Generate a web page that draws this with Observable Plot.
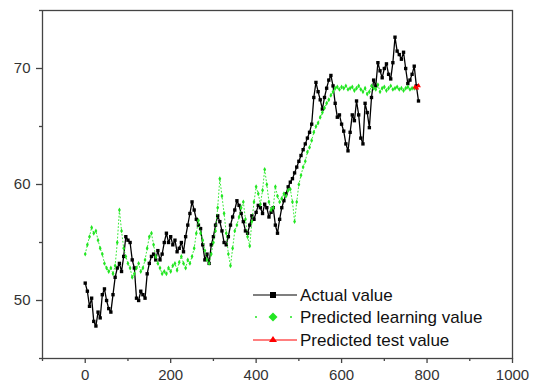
<!DOCTYPE html>
<html><head><meta charset="utf-8">
<script src="https://cdn.jsdelivr.net/npm/d3@7"></script>
<script src="https://cdn.jsdelivr.net/npm/@observablehq/plot@0.6"></script>
<style>
body{margin:0;background:#fff;}
#wrap{position:relative;width:540px;height:383px;}
#legend{position:absolute;left:0;top:0;}
</style></head>
<body><div id="wrap"></div>
<script>
const step = 5;
const actualValues = [51.5,50.8,49.5,50.2,48.2,47.8,49.0,48.5,50.5,51.0,50.0,49.3,49.0,50.5,52.0,52.8,53.2,52.5,53.8,55.5,
55.2,55.0,53.5,52.8,50.2,50.0,50.8,50.5,50.2,52.3,53.2,53.8,54.0,53.5,54.3,53.5,54.0,55.0,55.8,55.0,
55.5,54.8,55.2,54.2,54.5,55.0,54.2,55.5,56.5,57.5,58.5,57.8,57.0,56.5,56.2,54.8,53.5,54.0,53.2,54.8,
55.5,56.5,57.3,56.8,56.0,55.0,54.8,55.5,56.5,57.2,57.8,58.6,58.2,57.5,56.8,56.0,55.8,56.5,57.3,57.0,
57.6,58.2,58.0,57.5,58.3,58.0,57.2,57.6,58.0,56.5,55.8,57.0,58.0,58.6,59.2,59.8,60.2,60.5,61.0,61.5,
62.0,62.5,63.0,63.5,64.0,64.5,65.2,67.5,68.8,68.0,67.3,66.5,67.5,68.3,69.0,69.4,68.5,67.0,65.8,66.0,
65.2,64.6,63.5,62.9,64.5,66.0,65.5,67.2,66.0,64.0,63.5,67.0,66.2,64.9,67.5,69.0,68.5,70.5,69.8,69.2,
70.0,70.4,69.5,69.1,70.5,72.7,71.5,71.2,70.8,71.4,70.0,68.7,69.0,69.5,70.2,68.5,67.2];
const learningValues = [54.0,54.8,55.5,56.3,55.8,56.0,55.2,54.5,54.0,53.2,52.8,52.5,52.8,52.3,53.0,55.0,57.8,56.0,54.5,53.8,
53.2,52.8,52.0,52.3,52.8,53.2,52.5,52.8,53.5,54.5,55.5,55.8,54.8,53.8,53.2,52.8,52.3,52.5,52.3,52.8,
52.5,53.0,53.2,52.6,53.3,53.8,53.2,52.8,53.5,53.2,53.8,54.5,55.8,56.9,55.8,55.2,54.3,53.5,53.2,54.0,
55.0,56.0,58.0,60.5,59.0,57.5,55.8,54.0,53.0,54.5,56.0,56.5,57.2,58.0,58.5,57.0,55.5,54.7,56.8,58.5,
59.8,59.2,58.3,59.5,61.3,60.0,58.5,57.8,58.0,59.8,59.0,58.5,58.8,59.2,59.0,59.5,59.6,58.5,56.8,58.5,
60.0,60.8,61.5,62.0,62.8,63.2,63.8,64.5,65.0,65.3,65.8,66.2,66.6,67.0,67.3,67.7,68.0,68.3,68.4,68.2,
68.4,68.3,68.5,68.2,68.3,68.4,68.1,68.3,68.5,68.2,68.0,68.3,67.8,68.0,68.5,68.3,68.2,68.6,68.0,68.3,
68.4,68.1,68.3,68.5,68.2,68.3,68.4,68.2,68.3,68.1,68.3,68.4,68.2,68.3,68.3];
const testX = [772,776,780];
const testValues = [68.4,68.3,68.5];
const xMajor = [0,200,400,600,800,1000];
const xMinor = [-100,100,300,500,700,900];
const yMajor = [50,60,70];
const yMinor = [45,55,65,75];

const actual = actualValues.map((v,i)=>({x:i*step,y:v}));
const learning = learningValues.map((v,i)=>({x:i*step,y:v}));
const test = testX.map((x,i)=>({x,y:testValues[i]}));

const green = "#22e622";
const plot = Plot.plot({
  width:540, height:383,
  marginLeft:42, marginRight:28, marginTop:10, marginBottom:25,
  style:{fontFamily:"'Liberation Sans', Arial, sans-serif", fontSize:"15px", color:"#333", background:"#fff"},
  x:{domain:[-100,1000]},
  y:{domain:[45,75]},
  marks:[
    Plot.line(actual,{x:"x",y:"y",stroke:"#000",strokeWidth:1.3}),
    Plot.dot(actual,{x:"x",y:"y",symbol:"square",r:1.9,fill:"#000",stroke:"none"}),
    Plot.line(learning,{x:"x",y:"y",stroke:green,strokeWidth:0.9,strokeDasharray:"1,2.5"}),
    Plot.dot(learning,{x:"x",y:"y",symbol:"diamond",r:1.5,fill:green,stroke:"none"}),
    Plot.line(test,{x:"x",y:"y",stroke:"#ff0000",strokeWidth:1}),
    Plot.dot(test,{x:"x",y:"y",symbol:"triangle",r:1.8,fill:"#ff0000",stroke:"none"}),
    Plot.frame({stroke:"#444",strokeWidth:1.3}),
    Plot.axisY({ticks:yMajor,tickSize:6,tickPadding:6,label:null,stroke:"#444",strokeWidth:1.3}),
    Plot.axisY({ticks:yMinor,tickSize:3,text:null,label:null,stroke:"#444",strokeWidth:1.3}),
    Plot.axisX({ticks:xMajor,tickSize:5,tickPadding:6,tickFormat:d3.format("d"),label:null,stroke:"#444",strokeWidth:1.3}),
    Plot.axisX({ticks:xMinor,tickSize:3,text:null,label:null,stroke:"#444",strokeWidth:1.3})
  ]
});
const wrap = document.getElementById("wrap");
wrap.appendChild(plot);

const ns="http://www.w3.org/2000/svg";
const leg = document.createElementNS(ns,"svg");
leg.setAttribute("id","legend");
leg.setAttribute("width",540); leg.setAttribute("height",383);
leg.innerHTML = `
<g font-family="'Liberation Sans', Arial, sans-serif" font-size="17" fill="#111">
 <line x1="253" x2="297" y1="295" y2="295" stroke="#000" stroke-width="1.2"/>
 <rect x="270" y="292" width="6" height="6" fill="#000"/>
 <text x="300" y="295" dy="0.35em">Actual value</text>
 <circle cx="256" cy="317" r="1" fill="${green}"/>
 <circle cx="291" cy="317" r="1" fill="${green}"/>
 <path d="M273,312.5 L277.5,317 L273,321.5 L268.5,317 Z" fill="${green}"/>
 <text x="300" y="317" dy="0.35em">Predicted learning value</text>
 <line x1="253" x2="297" y1="340" y2="340" stroke="#ff0000" stroke-width="1.2"/>
 <path d="M273,336 L277,342 L269,342 Z" fill="#ff0000"/>
 <text x="300" y="340" dy="0.35em">Predicted test value</text>
</g>`;
wrap.appendChild(leg);
</script></body></html>
